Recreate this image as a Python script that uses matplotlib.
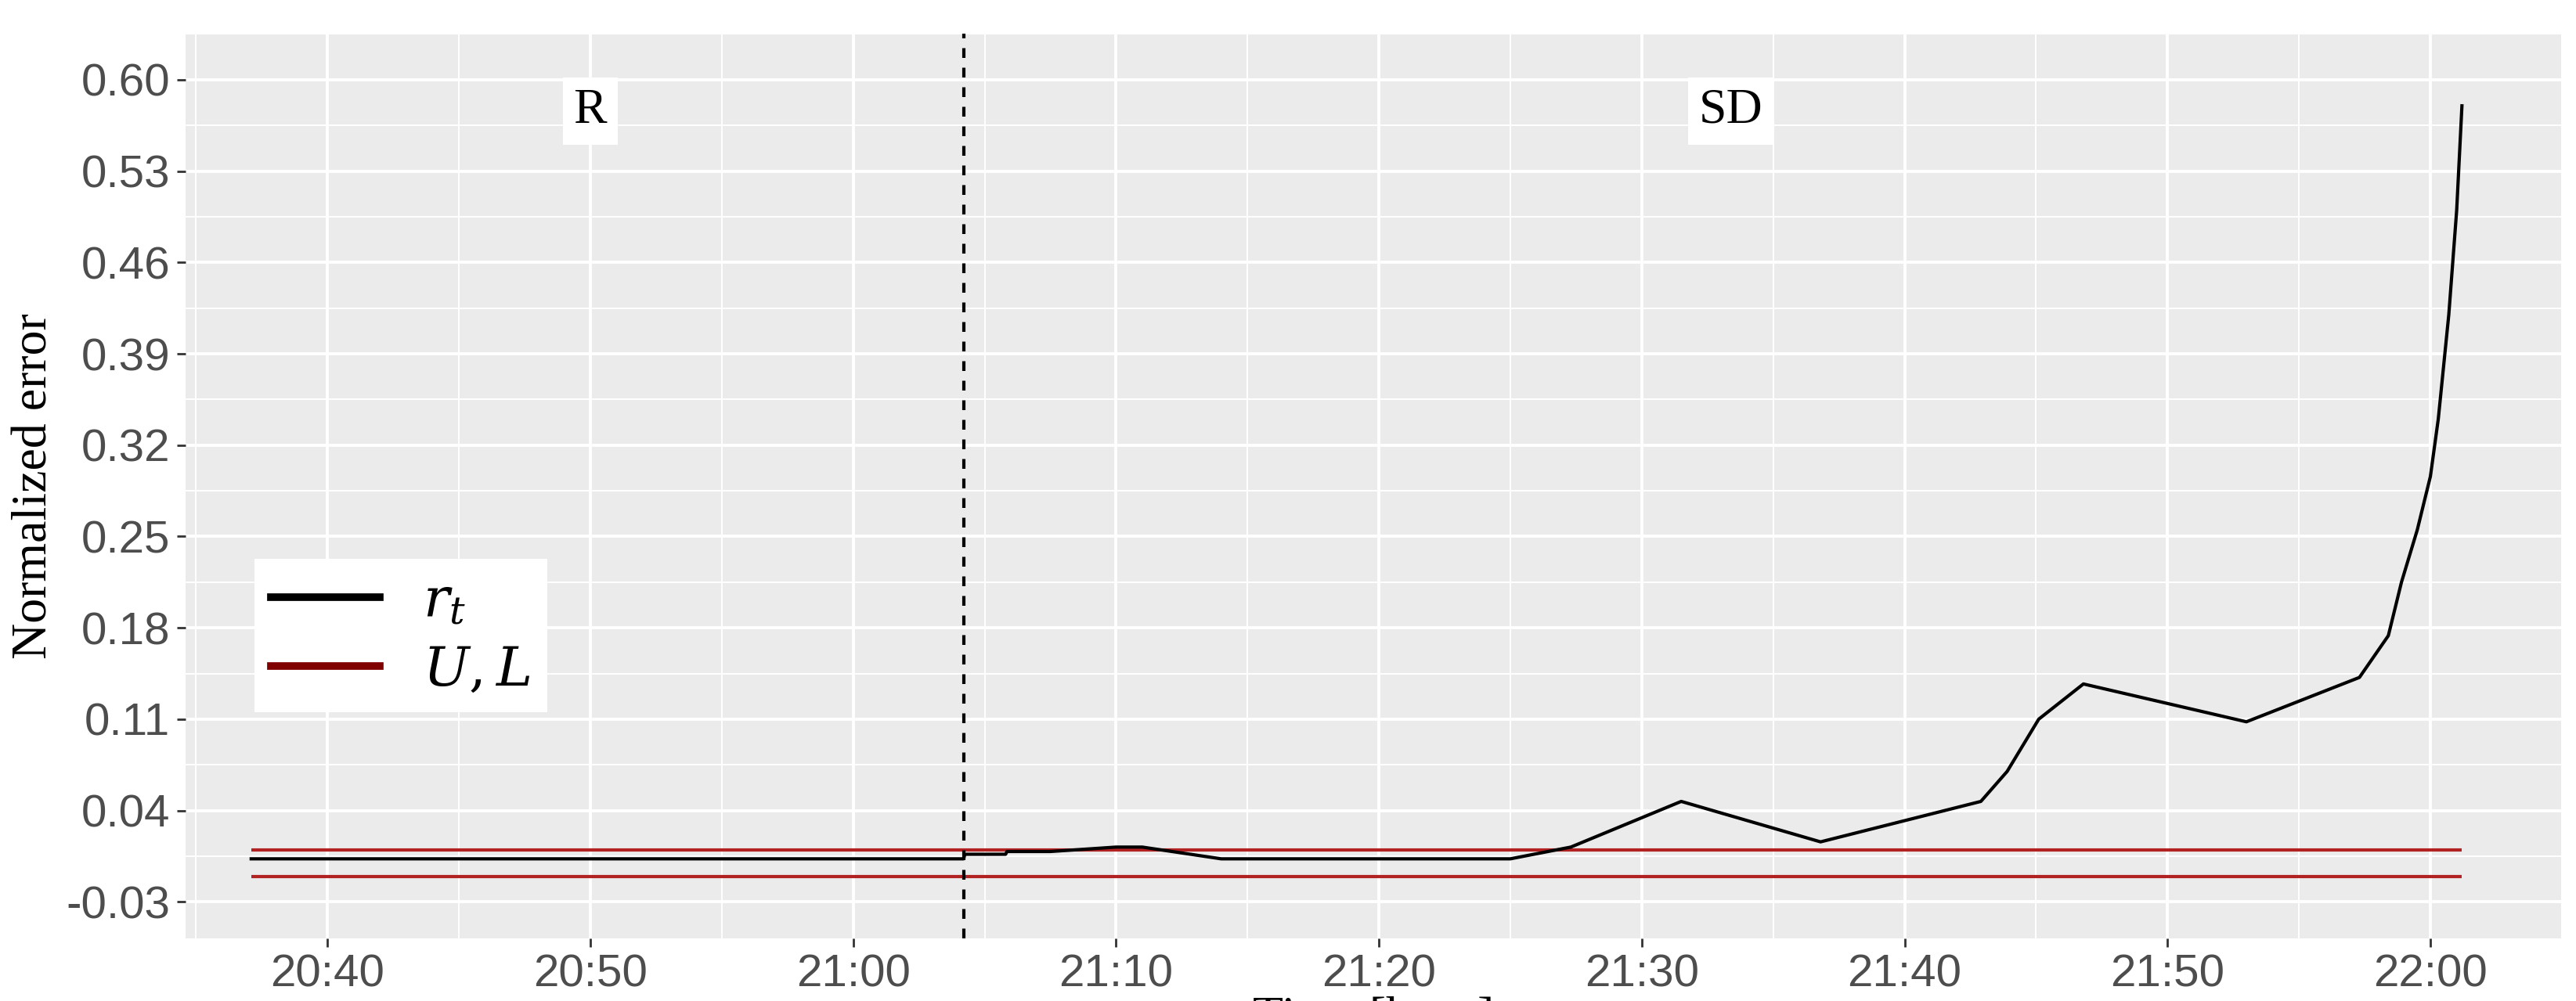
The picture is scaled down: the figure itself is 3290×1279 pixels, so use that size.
import matplotlib.pyplot as plt
from matplotlib.lines import Line2D

plt.rcParams["mathtext.fontset"] = "dejavuserif"

# minutes after 20:00
t_min = [37.1, 64.2, 64.25, 65.8, 65.85, 67.5, 70.0, 71.0, 74.0, 85.0, 87.3, 91.5, 96.8,
         102.9, 103.9, 105.1, 106.8, 113.0, 117.3, 118.4, 118.9, 119.5, 120.0,
         120.3, 120.7, 121.0, 121.2]
r_t = [0.003, 0.003, 0.0065, 0.0065, 0.0086, 0.0086, 0.012, 0.012, 0.003, 0.003, 0.012,
       0.047, 0.016, 0.047, 0.070, 0.110, 0.137, 0.108, 0.142, 0.174, 0.215, 0.255, 0.296,
       0.340, 0.420, 0.500, 0.580]
upper, lower = 0.0099, -0.0103
change_point = 64.2
tick_min = [40, 50, 60, 70, 80, 90, 100, 110, 120]
tick_lbl = ["20:40", "20:50", "21:00", "21:10", "21:20", "21:30", "21:40", "21:50", "22:00"]
y_ticks = [-0.03, 0.04, 0.11, 0.18, 0.25, 0.32, 0.39, 0.46, 0.53, 0.60]

fig = plt.figure(figsize=(32.9, 12.79), dpi=100)
ax = fig.add_axes([0.072, 0.0625, 0.9225, 0.9035])
ax.set_facecolor("#ebebeb")
for s in ax.spines.values():
    s.set_visible(False)

ax.set_xlim(34.6, 123.6)
ax.set_ylim(-0.058, 0.633)
ax.set_xticks(tick_min)
ax.set_xticklabels(tick_lbl)
ax.set_xticks([m + 5 for m in [30] + tick_min], minor=True)
ax.set_yticks(y_ticks)
ax.set_yticklabels([f"{v:.2f}" for v in y_ticks])
ax.set_yticks([v + 0.035 for v in [-0.065] + y_ticks], minor=True)
ax.grid(which="major", color="white", lw=2.8)
ax.grid(which="minor", color="white", lw=1.4)
ax.set_axisbelow(True)
ax.tick_params(which="major", labelsize=42, colors="#333333", labelcolor="#4d4d4d",
               length=8, width=2, pad=6)
ax.tick_params(which="minor", length=0)
for lab in ax.get_xticklabels() + ax.get_yticklabels():
    lab.set_fontfamily("Liberation Sans")

ax.hlines([upper, lower], t_min[0], t_min[-1], color="#b22222", lw=3)
ax.plot(t_min, r_t, color="black", lw=3)
ax.axvline(change_point, color="black", ls=(0, (3, 3)), lw=3)

box = dict(facecolor="white", edgecolor="none", pad=10)
ax.text(50, 0.576, "R", fontsize=46, family="Liberation Serif", ha="center", va="center", bbox=box)
ax.text(93.4, 0.576, "SD", fontsize=46, family="Liberation Serif", ha="center", va="center", bbox=box)

ax.set_xlabel("Time [hour]", fontsize=46, family="Liberation Serif", labelpad=0)
ax.set_ylabel("Normalized error", fontsize=46, family="Liberation Serif", labelpad=8)

handles = [Line2D([], [], color="black", lw=7), Line2D([], [], color="#800000", lw=7)]
leg = ax.legend(handles, [r"$r_t$", r"$U, L$"], loc="upper left",
                bbox_to_anchor=(0.029, 0.42), fontsize=50, frameon=True,
                fancybox=False, framealpha=1, edgecolor="none", handlelength=2.0,
                borderpad=0.3, labelspacing=0.3, borderaxespad=0)
leg.get_frame().set_facecolor("white")

fig.savefig("out.png", dpi=100)
